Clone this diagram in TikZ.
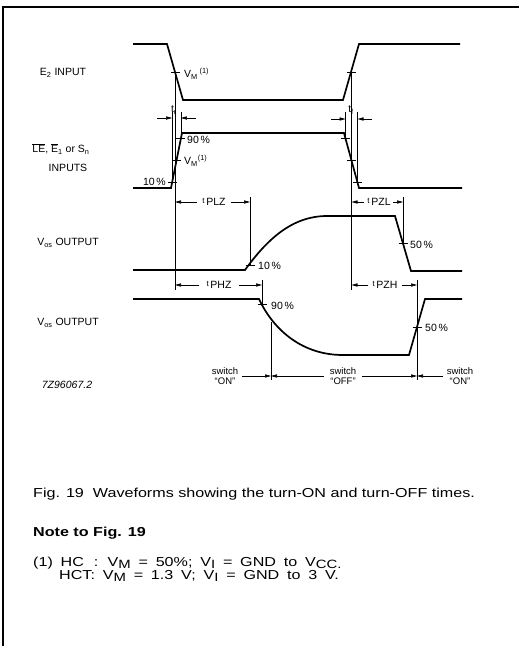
\documentclass[tikz,border=0pt]{standalone}
\usepackage{fontspec}
\setmainfont{Liberation Sans}
\newfontfamily\widefont[FakeStretch=1.24]{Liberation Sans}
\usetikzlibrary{arrows.meta}
\newcommand{\olx}[1]{$\overline{\hbox{#1}}$}
\newcommand{\lsub}[1]{\raisebox{-0.4ex}{\fontsize{12}{12}\selectfont #1}}
\newcommand{\tlab}[1]{\raisebox{2.5pt}{\fontsize{8}{8}\selectfont t}\,\fontsize{10.5}{12}\selectfont #1}
\newcommand{\widesp}{\spaceskip=0.6em plus 0.1em\relax}
\begin{document}
\begin{tikzpicture}[x=1pt,y=-1pt,
  wave/.style={line width=1.7pt, line join=miter},
  thinl/.style={line width=0.6pt},
  dim/.style={line width=0.6pt,-{Triangle[length=6pt,width=3.2pt]}},
  lbl/.style={font=\fontsize{10.5}{12}\selectfont, inner sep=0pt},
  small/.style={font=\fontsize{9.5}{10.5}\selectfont, inner sep=0pt, align=center},
  captxt/.style={font=\widefont\fontsize{13}{15}\selectfont, inner sep=0pt, anchor=base west},
]
\useasboundingbox (0,0) rectangle (519,646);
% frame
\draw[line width=1.5pt] (519,7) -- (3,7) -- (3,646);

% named points
\coordinate (e2vmf) at (175,72);
\coordinate (e2vmr) at (351.5,72);
\coordinate (le10r) at (172.1,182.5);
\coordinate (levmr) at (176.5,160.5);
\coordinate (le90r) at (180.9,138.5);
\coordinate (le90f) at (345.5,138.5);
\coordinate (levmf) at (351.5,160.5);
\coordinate (le10f) at (357.5,182.5);
\coordinate (o1ten) at (250,265);
\coordinate (o1fif) at (403,243.5);
\coordinate (o2nin) at (262,304.6);
\coordinate (o2fif) at (417,327);

% waveforms
\draw[wave] (133,44) -- (167,44) -- (183,100) -- (343,100) -- (359,44) -- (460,44);
\draw[wave] (133,188) -- (171,188) -- (182,133) -- (344,133) -- (359,188) -- (462,188);
\draw[wave] (133,270) -- (245,270) .. controls (266,241) and (291,216) .. (327,216) -- (395,216) -- (411,271) -- (462,271);
\draw[wave] (133,299) -- (259,299) .. controls (271,325) and (298,355) .. (343,355) -- (409,355) -- (425,299) -- (462,299);

% ticks
\foreach \p in {e2vmf,e2vmr,le10r,levmr,le90r,le90f,levmf,le10f,o1ten,o1fif,o2nin,o2fif}
  \draw[line width=0.8pt] (\p) ++(-4.5,0) -- ++(9,0);

% vertical reference lines
\draw[thinl] (e2vmf) -- (175,290);
\draw[thinl] (e2vmr) -- (351.5,290);
\draw[thinl] (172.1,112) -- (le10r);
\draw[thinl] (180.9,112) -- (le90r);
\draw[thinl] (345.5,112) -- (le90f);
\draw[thinl] (357.5,112) -- (le10f);
\draw[thinl] (250,197) -- (o1ten);
\draw[thinl] (262,280) -- (o2nin);
\draw[thinl] (403,197) -- (o1fif);
\draw[thinl] (417,280) -- (417,380);
\draw[thinl] (271,322) -- (271,380);

% tr / tf
\draw[dim] (157,118) -- (172.1,118);
\draw[dim] (196,118) -- (180.9,118);
\node[lbl] (tr) at (174,110) {t\textsubscript{r}};
\draw[dim] (331,119) -- (345.5,119);
\draw[dim] (372,119) -- (357.5,119);
\node[lbl] (tf) at (351,110) {t\textsubscript{f}};

% tPLZ etc
\node[lbl] (tplz) at (214,202) {\tlab{PLZ}};
\draw[dim] (tplz.west) ++(-5,0) -- (175,202);
\draw[dim] (tplz.east) ++(5,0) -- (250,202);
\node[lbl] (tphz) at (219,285) {\tlab{PHZ}};
\draw[dim] (tphz.west) ++(-7,0) -- (175,285);
\draw[dim] (tphz.east) ++(7,0) -- (262,285);
\node[lbl] (tpzl) at (379,202) {\tlab{PZL}};
\draw[dim] (tpzl.west) ++(-3,0) -- (351.5,202);
\draw[dim] (tpzl.east) ++(2,0) -- (403,202);
\node[lbl] (tpzh) at (385,285) {\tlab{PZH}};
\draw[dim] (tpzh.west) ++(-4,0) -- (351.5,285);
\draw[dim] (tpzh.east) ++(4,0) -- (417,285);

% switch
\node[small] (sw1) at (225,376) {switch\\``ON''};
\node[small] (sw2) at (343,376) {switch\\``OFF''};
\node[small] (sw3) at (460,376) {switch\\``ON''};
\draw[dim] (sw1.east) ++(4,0) -- (271,376);
\draw[dim] (sw2.west) ++(-6,0) -- (271,376);
\draw[dim] (sw2.east) ++(6,0) -- (417,376);
\draw[dim] (sw3.west) ++(-4,0) -- (417,376);

% percent / VM labels
\node[lbl,anchor=west] (vm1) at (184,74) {V\textsubscript{M}\,\textsuperscript{(1)}};
\node[lbl,anchor=west] (vm2) at (184,161) {V\textsubscript{M}\textsuperscript{(1)}};
\node[lbl,anchor=west] (p90a) at (187,140) {90\,\%};
\node[lbl,anchor=east] (p10a) at (166,182) {10\,\%};
\node[lbl,anchor=west] (p10b) at (258,266) {10\,\%};
\node[lbl,anchor=west] (p50a) at (410,245) {50\,\%};
\node[lbl,anchor=west] (p90b) at (271,306) {90\,\%};
\node[lbl,anchor=west] (p50b) at (425,328) {50\,\%};

% left labels
\node[lbl] (le2) at (63,73) {E\textsubscript{2} INPUT};
\node[lbl] (lle) at (61,149) {\olx{LE}, \olx{E}\textsubscript{1} or S\textsubscript{n}};
\node[lbl] (lin) at (68,168) {INPUTS};
\node[lbl] (lo1) at (68,243) {V\textsubscript{os} OUTPUT};
\node[lbl] (lo2) at (68,323) {V\textsubscript{os} OUTPUT};
\node[lbl] (code) at (67,385) {\textit{7Z96067.2}};

% caption
\node[captxt] (c1) at (33,497) {Fig. 19\ \ Waveforms showing the turn-ON and turn-OFF times.};
\node[captxt,font=\widefont\fontsize{13}{15}\selectfont\bfseries] (c2) at (33,536) {Note to Fig. 19};
\node[captxt] (c3) at (33,566) {\widesp(1)\ \makebox[2.55em][l]{HC}: V\lsub{M} = 50\%; V\lsub{I} = GND to V\lsub{CC.}};
\node[captxt] (c4) at (59,579) {\widesp HCT: V\lsub{M} = 1.3 V; V\lsub{I} = GND to 3 V.};
\end{tikzpicture}
\end{document}
